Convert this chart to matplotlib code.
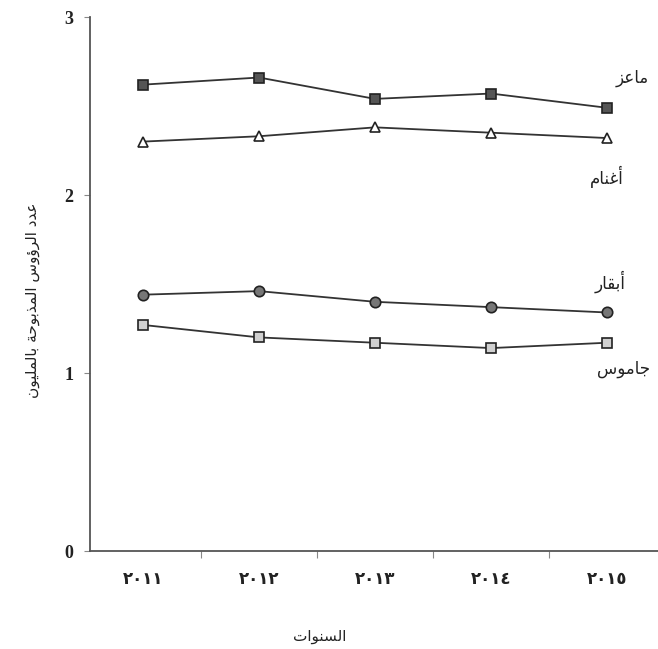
import matplotlib
matplotlib.use("Agg")
import matplotlib.pyplot as plt

# Data
years = ["٢٠١١", "٢٠١٢", "٢٠١٣", "٢٠١٤", "٢٠١٥"]
goats = [2.62, 2.66, 2.54, 2.57, 2.49]
sheep = [2.30, 2.33, 2.38, 2.35, 2.32]
cattle = [1.44, 1.46, 1.40, 1.37, 1.34]
buffalo = [1.27, 1.20, 1.17, 1.14, 1.17]
names = ["ماعز", "أغنام", "أبقار", "جاموس"]
y_label = "عدد الرؤوس المذبوحة بالمليون"
x_label = "السنوات"

# matplotlib does no Arabic shaping, so pick presentation forms by hand
# forms: isolated, final, initial, medial (None = letter does not join forward)
FORMS = {
    "ا": (0xFE8D, 0xFE8E, None, None), "أ": (0xFE83, 0xFE84, None, None),
    "ب": (0xFE8F, 0xFE90, 0xFE91, 0xFE92), "ت": (0xFE95, 0xFE96, 0xFE97, 0xFE98),
    "ة": (0xFE93, 0xFE94, None, None), "ج": (0xFE9D, 0xFE9E, 0xFE9F, 0xFEA0),
    "ح": (0xFEA1, 0xFEA2, 0xFEA3, 0xFEA4), "د": (0xFEA9, 0xFEAA, None, None),
    "ذ": (0xFEAB, 0xFEAC, None, None), "ر": (0xFEAD, 0xFEAE, None, None),
    "ز": (0xFEAF, 0xFEB0, None, None), "س": (0xFEB1, 0xFEB2, 0xFEB3, 0xFEB4),
    "ع": (0xFEC9, 0xFECA, 0xFECB, 0xFECC), "غ": (0xFECD, 0xFECE, 0xFECF, 0xFED0),
    "ق": (0xFED5, 0xFED6, 0xFED7, 0xFED8), "ل": (0xFEDD, 0xFEDE, 0xFEDF, 0xFEE0),
    "م": (0xFEE1, 0xFEE2, 0xFEE3, 0xFEE4), "ن": (0xFEE5, 0xFEE6, 0xFEE7, 0xFEE8),
    "و": (0xFEED, 0xFEEE, None, None), "ي": (0xFEF1, 0xFEF2, 0xFEF3, 0xFEF4),
    "ؤ": (0xFE85, 0xFE86, None, None),
}


def shape(text):
    out = []
    for i, ch in enumerate(text):
        if ch not in FORMS:
            out.append(ch)
            continue
        prev = text[i - 1] if i > 0 else ""
        nxt = text[i + 1] if i + 1 < len(text) else ""
        joins_prev = prev in FORMS and FORMS[prev][2] is not None
        joins_next = FORMS[ch][2] is not None and nxt in FORMS
        f = FORMS[ch]
        if joins_prev and joins_next:
            code = f[3]
        elif joins_prev:
            code = f[1]
        elif joins_next:
            code = f[2]
        else:
            code = f[0]
        out.append(chr(code))
    return "".join(out)[::-1]


fig = plt.figure(figsize=(6.58, 6.49), dpi=100)
ax = fig.add_axes([90 / 658, 98 / 649, 568 / 658, 534 / 649])

x = range(len(years))
line_kw = dict(color="#333333", linewidth=1.3, markeredgecolor="#222222",
               markeredgewidth=1.2, markersize=7.5, clip_on=False)
ax.plot(x, goats, marker="s", markerfacecolor="#555555", **line_kw)
ax.plot(x, sheep, marker="^", markerfacecolor="white", **line_kw)
ax.plot(x, cattle, marker="o", markerfacecolor="#777777", **line_kw)
ax.plot(x, buffalo, marker="s", markerfacecolor="#d0d0d0", **line_kw)

# series names beside the right end
label_pos = [(4.22, 2.66), (4.0, 2.10), (4.03, 1.51), (4.14, 1.02)]
for name, (lx, ly) in zip(names, label_pos):
    ax.text(lx, ly, shape(name), fontsize=12, family="DejaVu Sans",
            ha="center", va="center", color="#222222")

ax.set_xlim(-0.457, 4.44)
ax.set_ylim(0, 3)
ax.set_xticks(list(x))
ax.set_xticklabels(years, fontsize=12, fontweight="bold", color="#222222",
                   family="DejaVu Sans")
ax.set_xticks([0.5, 1.5, 2.5, 3.5], minor=True)
ax.tick_params(axis="x", which="major", length=0, pad=14)
ax.tick_params(axis="x", which="minor", length=5, width=0.8, color="#888888")
ax.set_yticks([0, 1, 2, 3])
ax.set_yticklabels(["0", "1", "2", "3"], fontsize=13, fontweight="bold",
                   family="Liberation Serif", color="#222222")
ax.tick_params(axis="y", length=4, width=0.8, color="#888888", pad=8)

for side in ["top", "right"]:
    ax.spines[side].set_visible(False)
for side in ["left", "bottom"]:
    ax.spines[side].set_color("#555555")
    ax.spines[side].set_linewidth(1.3)

ax.set_xlabel(shape(x_label), fontsize=11, family="DejaVu Sans", color="#222222",
              va="center")
ax.xaxis.set_label_coords(0.405, -0.161)
ax.set_ylabel(shape(y_label), fontsize=11, family="DejaVu Sans", color="#222222",
              va="center")
ax.yaxis.set_label_coords(-0.102, 0.47)

fig.savefig("out.png", dpi=100)
